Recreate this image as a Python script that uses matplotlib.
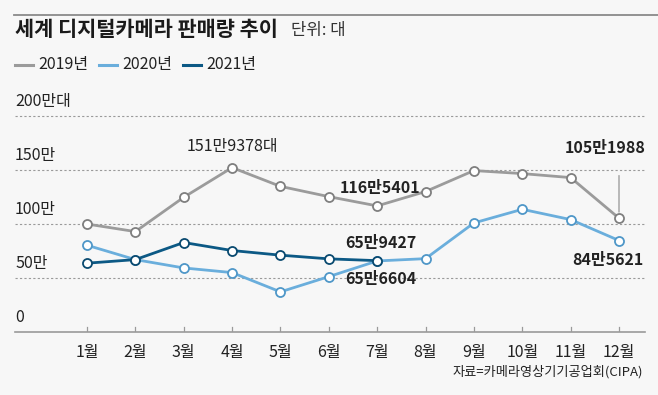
import matplotlib
matplotlib.use("Agg")
import matplotlib.pyplot as plt
from matplotlib.lines import Line2D

plt.rcParams['font.family'] = ['Noto Sans CJK KR', 'DejaVu Sans']

months = ['1월', '2월', '3월', '4월', '5월', '6월', '7월', '8월', '9월', '10월', '11월', '12월']
s2019 = [99.8, 92.8, 124.5, 151.9378, 134.6, 125.1, 116.5401, 129.8, 149.2, 146.4, 142.7, 105.1988]
s2020 = [80.2, 66.9, 59.2, 54.9, 37.1, 51.2, 65.6604, 67.8, 100.8, 113.4, 103.9, 84.5621]
s2021 = [63.6, 66.9, 82.7, 75.3, 71.0, 67.6, 65.9427]
yticks = [0, 50, 100, 150, 200]
ytick_labels = ['0', '50만', '100만', '150만', '200만대']
series_names = ['2019년', '2020년', '2021년']

c2019 = '#9b9b9b'
c2020 = '#6aaedc'
c2021 = '#0c5985'
bg = '#f7f7f7'

W, H = 658, 395
fig = plt.figure(figsize=(W / 100, H / 100), dpi=100, facecolor=bg)

# axes placement in pixels
px_left, px_right = 15, 645
px_y0, px_top = 332, 100
ax = fig.add_axes([px_left / W, (H - px_y0) / H, (px_right - px_left) / W, (px_y0 - px_top) / H])
ax.set_facecolor(bg)
m_px1, m_px12 = 87, 619
step = (m_px12 - m_px1) / 11
ax.set_xlim(1 - (m_px1 - px_left) / step, 12 + (px_right - m_px12) / step)
ppu = (332.4 - 116) / 200
ax.set_ylim(0, (px_y0 - px_top) / ppu)
for s in ax.spines.values():
    s.set_visible(False)
ax.set_xticks([])
ax.set_yticks([])

x = list(range(1, 13))

# gridlines
for v in yticks[1:]:
    ax.plot([ax.get_xlim()[0], ax.get_xlim()[1] + 0.03], [v, v], ls=(0, (2, 2)), color='#9a9a9a', lw=0.8,
            clip_on=False, zorder=1)
ax.plot([ax.get_xlim()[0], ax.get_xlim()[1]], [0, 0], color='#9a9a9a', lw=1.2, clip_on=False, zorder=1)
for xi in x:
    ax.plot([xi, xi], [0, 5], color='#9a9a9a', lw=0.9, zorder=1)

# y labels
for v, lab in zip(yticks, ytick_labels):
    ax.annotate(lab, xy=(ax.get_xlim()[0], v), xytext=(0, 4), textcoords='offset points',
                ha='left', va='bottom', fontsize=11.5, color='#222222')

# x labels
for xi, lab in zip(x, months):
    ax.annotate(lab, xy=(xi, 0), xytext=(0, -9), textcoords='offset points',
                ha='center', va='top', fontsize=11.5, color='#222222')

mk = dict(marker='o', markersize=6.5, markerfacecolor='white', markeredgewidth=1.3)
ax.plot(x, s2019, color=c2019, lw=2.0, markeredgecolor='#7f7f7f', zorder=3, clip_on=False, **mk)
ax.plot(x, s2020, color=c2020, lw=2.0, markeredgecolor='#4f97c8', zorder=4, clip_on=False, **mk)
ax.plot(x[:len(s2021)], s2021, color=c2021, lw=2.0, markeredgecolor='#0a4a70', zorder=5, clip_on=False, **mk)

# annotations
ax.annotate('151만9378대', xy=(4, s2019[3]), xytext=(0, 9), textcoords='offset points',
            ha='center', va='bottom', fontsize=11.5, color='#222222')
ax.annotate('116만5401', xy=(7, s2019[6]), xytext=(2, 7), textcoords='offset points',
            ha='center', va='bottom', fontsize=11.5, fontweight='bold', color='#222222')
ax.annotate('65만9427', xy=(7, s2021[6]), xytext=(3, 7), textcoords='offset points',
            ha='center', va='bottom', fontsize=11.5, fontweight='bold', color='#222222')
ax.annotate('65만6604', xy=(7, s2020[6]), xytext=(3, -7), textcoords='offset points',
            ha='center', va='top', fontsize=11.5, fontweight='bold', color='#222222')
ax.annotate('105만1988', xy=(12, s2019[11]), xytext=(-10, 45), textcoords='offset points',
            ha='center', va='bottom', fontsize=11.5, fontweight='bold', color='#222222')
ax.annotate('', xy=(12, s2019[11] + 3), xytext=(12, s2019[11] + 42),
            arrowprops=dict(arrowstyle='-', color='#888888', lw=0.8))
ax.annotate('84만5621', xy=(12, s2020[11]), xytext=(18, -8), textcoords='offset points',
            ha='right', va='top', fontsize=11.5, fontweight='bold', color='#222222')

# header
fig.add_artist(Line2D([14 / W, 1], [1 - 14.5 / H, 1 - 14.5 / H], color='#8a8a8a', lw=1.3))
fig.text(15 / W, 1 - 30 / H, '세계 디지털카메라 판매량 추이', fontsize=15, fontweight='bold',
         ha='left', va='center', color='#1a1a1a')
fig.text(291 / W, 1 - 31 / H, '단위: 대', fontsize=12, ha='left', va='center', color='#333333')

# legend
for i, (name, c) in enumerate(zip(series_names, [c2019, c2020, c2021])):
    x0 = 15 + i * 84
    fig.add_artist(Line2D([x0 / W, (x0 + 18) / W], [1 - 65 / H, 1 - 65 / H], color=c, lw=2.2))
    fig.text((x0 + 23) / W, 1 - 65 / H, name, fontsize=11.5, ha='left', va='center', color='#222222')

fig.text(643 / W, 1 - 372 / H, '자료=카메라영상기기공업회(CIPA)', fontsize=9.5, ha='right', va='center',
         color='#222222')

fig.savefig('out.png', dpi=100, facecolor=bg)
